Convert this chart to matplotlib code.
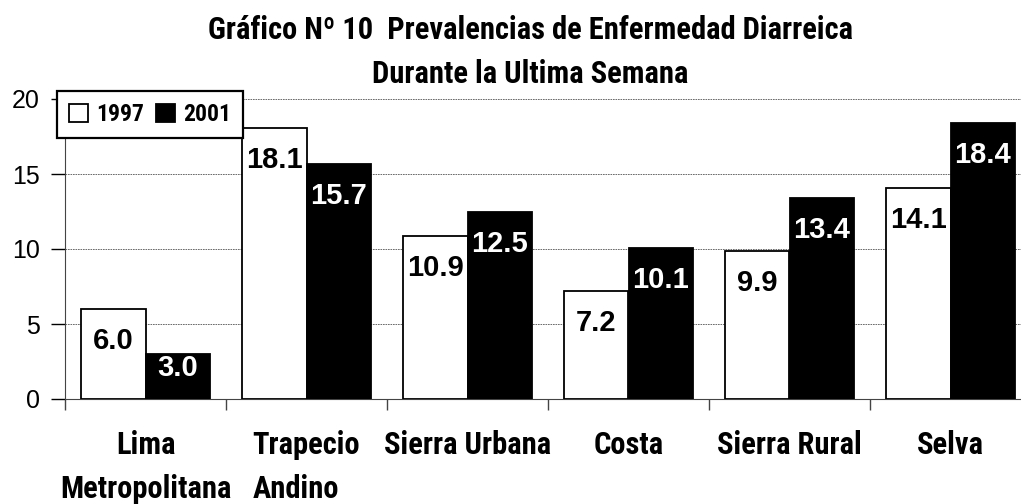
import matplotlib
matplotlib.use("Agg")
import matplotlib.pyplot as plt
import numpy as np

categories = ["Lima\nMetropolitana", "Trapecio\nAndino", "Sierra Urbana", "Costa", "Sierra Rural", "Selva"]
series_names = ["1997", "2001"]
v1997 = [6.0, 18.1, 10.9, 7.2, 9.9, 14.1]
v2001 = [3.0, 15.7, 12.5, 10.1, 13.4, 18.4]
yticks = [0, 5, 10, 15, 20]
title = "Gráfico Nº 10  Prevalencias de Enfermedad Diarreica\nDurante la Ultima Semana"

narrow = ["Roboto Condensed", "Liberation Sans", "DejaVu Sans"]
regular = ["Liberation Sans", "DejaVu Sans"]

fig = plt.figure(figsize=(10.21, 5.04), dpi=100)
ax = fig.add_axes([65/1021, 105/504, 966/1021, 300/504])

x = np.arange(len(categories))
w = 0.4
ax.bar(x - w/2, v1997, w, color="white", edgecolor="black", linewidth=1.3, zorder=3, label=series_names[0])
ax.bar(x + w/2, v2001, w, color="black", edgecolor="black", linewidth=1.3, zorder=3, label=series_names[1])

for xs, vals, col in [(x - w/2, v1997, "black"), (x + w/2, v2001, "white")]:
    for xi, v in zip(xs, vals):
        ax.text(xi, max(v - 2.15, 2.05), f"{v:.1f}", ha="center", va="center",
                color=col, fontsize=21, fontweight="bold", family=regular, zorder=4)

ax.set_xlim(-0.5, len(categories) - 0.5)
ax.set_ylim(0, 20)
ax.set_yticks(yticks)
ax.set_yticklabels([str(t) for t in yticks], family=regular, fontsize=18)
ax.yaxis.grid(True, linestyle=(0, (2, 1)), color="#555555", linewidth=0.6, zorder=0)
ax.set_axisbelow(True)

ax.set_xticks(np.arange(len(categories) + 1) - 0.5)
ax.set_xticklabels([])
ax.set_xticks(x, minor=True)
ax.set_xticklabels(categories, minor=True, family=narrow, fontsize=22, fontweight="bold", linespacing=1.6)
for i, lbl in enumerate(ax.get_xticklabels(minor=True)):
    if i == 1:
        lbl.set_multialignment("left")
ax.tick_params(axis="x", which="minor", length=0, pad=22)
ax.tick_params(axis="x", which="major", length=8, width=1, direction="out", color="#444444")
ax.tick_params(axis="y", length=10, width=1, direction="out", pad=8)

for s in ["top", "right"]:
    ax.spines[s].set_visible(False)
ax.spines["left"].set_color("#444444")
ax.spines["bottom"].set_color("#444444")

leg = ax.legend(loc="upper left", bbox_to_anchor=(-8/966, 308/300), ncol=2, frameon=True, fancybox=False,
                edgecolor="black", prop={"family": narrow, "weight": "bold", "size": 17},
                handlelength=0.8, handleheight=0.8, handletextpad=0.35, columnspacing=0.5,
                borderpad=0.5, borderaxespad=0, framealpha=1)
leg.get_frame().set_linewidth(1.6)
leg.set_zorder(5)

fig.text(530/1021, 1 - 52/504, title, ha="center", va="center", family=narrow,
         fontsize=22, fontweight="bold", linespacing=1.6)

fig.savefig("out.png", dpi=100)
